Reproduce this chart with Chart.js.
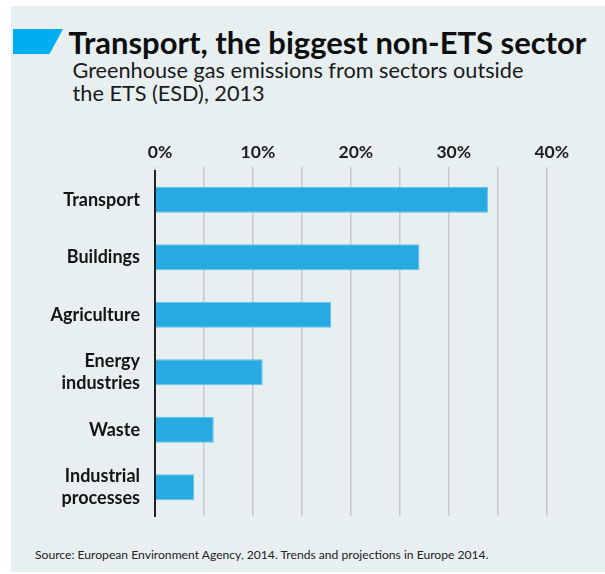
<!DOCTYPE html>
<html>
<head>
<meta charset="utf-8">
<script src="https://cdn.jsdelivr.net/npm/chart.js@4.4.1/dist/chart.umd.min.js"></script>
<style>
  html, body { margin: 0; padding: 0; background: #ffffff; }
  #wrap { position: relative; width: 605px; height: 574px; overflow: hidden; }
  #panel { position: absolute; left: 11px; top: 6px; width: 594px; height: 566px; background: #e8eff1; }
  #flag { position: absolute; left: 13px; top: 29px; width: 50px; height: 25px; background: #00aeef;
          clip-path: polygon(0 0, 100% 0, 73% 100%, 0 100%); }
  .txt { position: absolute; white-space: nowrap; font-family: 'Lato', 'Noto Sans', sans-serif; margin: 0; }
  #title { font-weight: 700; color: #0e0e0e; }
  #sub1, #sub2 { font-weight: 400; color: #1a1a1a; }
  #source { font-weight: 400; color: #222222; }
  canvas { position: absolute; left: 0; top: 0; }
</style>
</head>
<body>
<div id="wrap">
  <div id="panel"></div>
  <div id="flag"></div>
  <div id="title" class="txt">Transport, the biggest non-ETS sector</div>
  <div id="sub1" class="txt">Greenhouse gas emissions from sectors outside</div>
  <div id="sub2" class="txt">the ETS (ESD), 2013</div>
  <div id="source" class="txt">Source: European Environment Agency, 2014. Trends and projections in Europe 2014.</div>
  <canvas id="c" width="605" height="574" style="width:605px;height:574px"></canvas>
</div>
<script>
// ---- Data ----
const categories = ['Transport', 'Buildings', 'Agriculture', ['Energy', 'industries'], 'Waste', ['Industrial', 'processes']];
const shares = [34.0, 27.0, 18.0, 11.0, 6.0, 4.0];
const tickStep = 5;
const labelledTicks = [0, 10, 20, 30, 40];
const axisMax = 40;

// ---- Text placement (fit width, place by baseline) ----
const FAMILY = "'Lato', 'Noto Sans', sans-serif";
const mctx = document.createElement('canvas').getContext('2d');
function place(id, weight, targetW, x, baseline, fixedFs) {
  const el = document.getElementById(id);
  mctx.font = weight + ' 100px ' + FAMILY;
  const m = mctx.measureText(el.textContent);
  const fs = fixedFs || 100 * targetW / m.width;
  const asc = (m.fontBoundingBoxAscent || 95) / 100 * fs;
  const desc = (m.fontBoundingBoxDescent || 25) / 100 * fs;
  el.style.fontSize = fs + 'px';
  el.style.lineHeight = (asc + desc) + 'px';
  el.style.left = x + 'px';
  el.style.top = (baseline - asc) + 'px';
  return fs;
}
const tfs = place('title', 700, 518, 68.5, 55);
const sfs = place('sub1', 400, 451, 72.5, 78.3);
place('sub2', 400, 0, 72.5, 101.7, sfs);
place('source', 400, 455, 35, 560);

// ---- Chart ----
Chart.defaults.font.family = FAMILY;
const CHART_TOP = 171, CHART_LEFT = 155;

new Chart(document.getElementById('c'), {
  type: 'bar',
  data: {
    labels: categories,
    datasets: [{
      data: shares,
      backgroundColor: '#27aae1',
      borderColor: '#5fc2ec',
      borderWidth: 1,
      borderSkipped: 'start',
      categoryPercentage: 1.0,
      barPercentage: 0.452
    }]
  },
  options: {
    indexAxis: 'y',
    responsive: false,
    animation: false,
    devicePixelRatio: 1,
    layout: { padding: { left: 11, right: 58.3, top: 0, bottom: 58 } },
    plugins: { legend: { display: false }, tooltip: { enabled: false }, title: { display: false } },
    scales: {
      x: {
        position: 'top',
        min: 0,
        max: axisMax,
        afterFit: (s) => { s.height = CHART_TOP; },
        afterBuildTicks: (s) => {
          const t = [];
          for (let v = 0; v <= axisMax; v += tickStep) t.push({ value: v });
          s.ticks = t;
        },
        ticks: {
          autoSkip: false,
          maxRotation: 0,
          padding: 4,
          labelOffset: 5,
          color: '#1e1e1e',
          font: { size: 17.5, weight: 700 },
          callback: (v) => labelledTicks.includes(v) ? v + '%' : ''
        },
        grid: { color: '#c5c9cb', lineWidth: 1.5, drawTicks: true, tickLength: 4, tickColor: '#c5c9cb' },
        border: { display: false }
      },
      y: {
        afterFit: (s) => { s.width = CHART_LEFT - 11; },
        ticks: {
          padding: 15,
          color: '#141414',
          font: { size: 18, weight: 700, lineHeight: 1.2 }
        },
        grid: { display: false, drawTicks: false },
        border: { display: true, color: '#222222', width: 2 }
      }
    }
  }
});
</script>
</body>
</html>
